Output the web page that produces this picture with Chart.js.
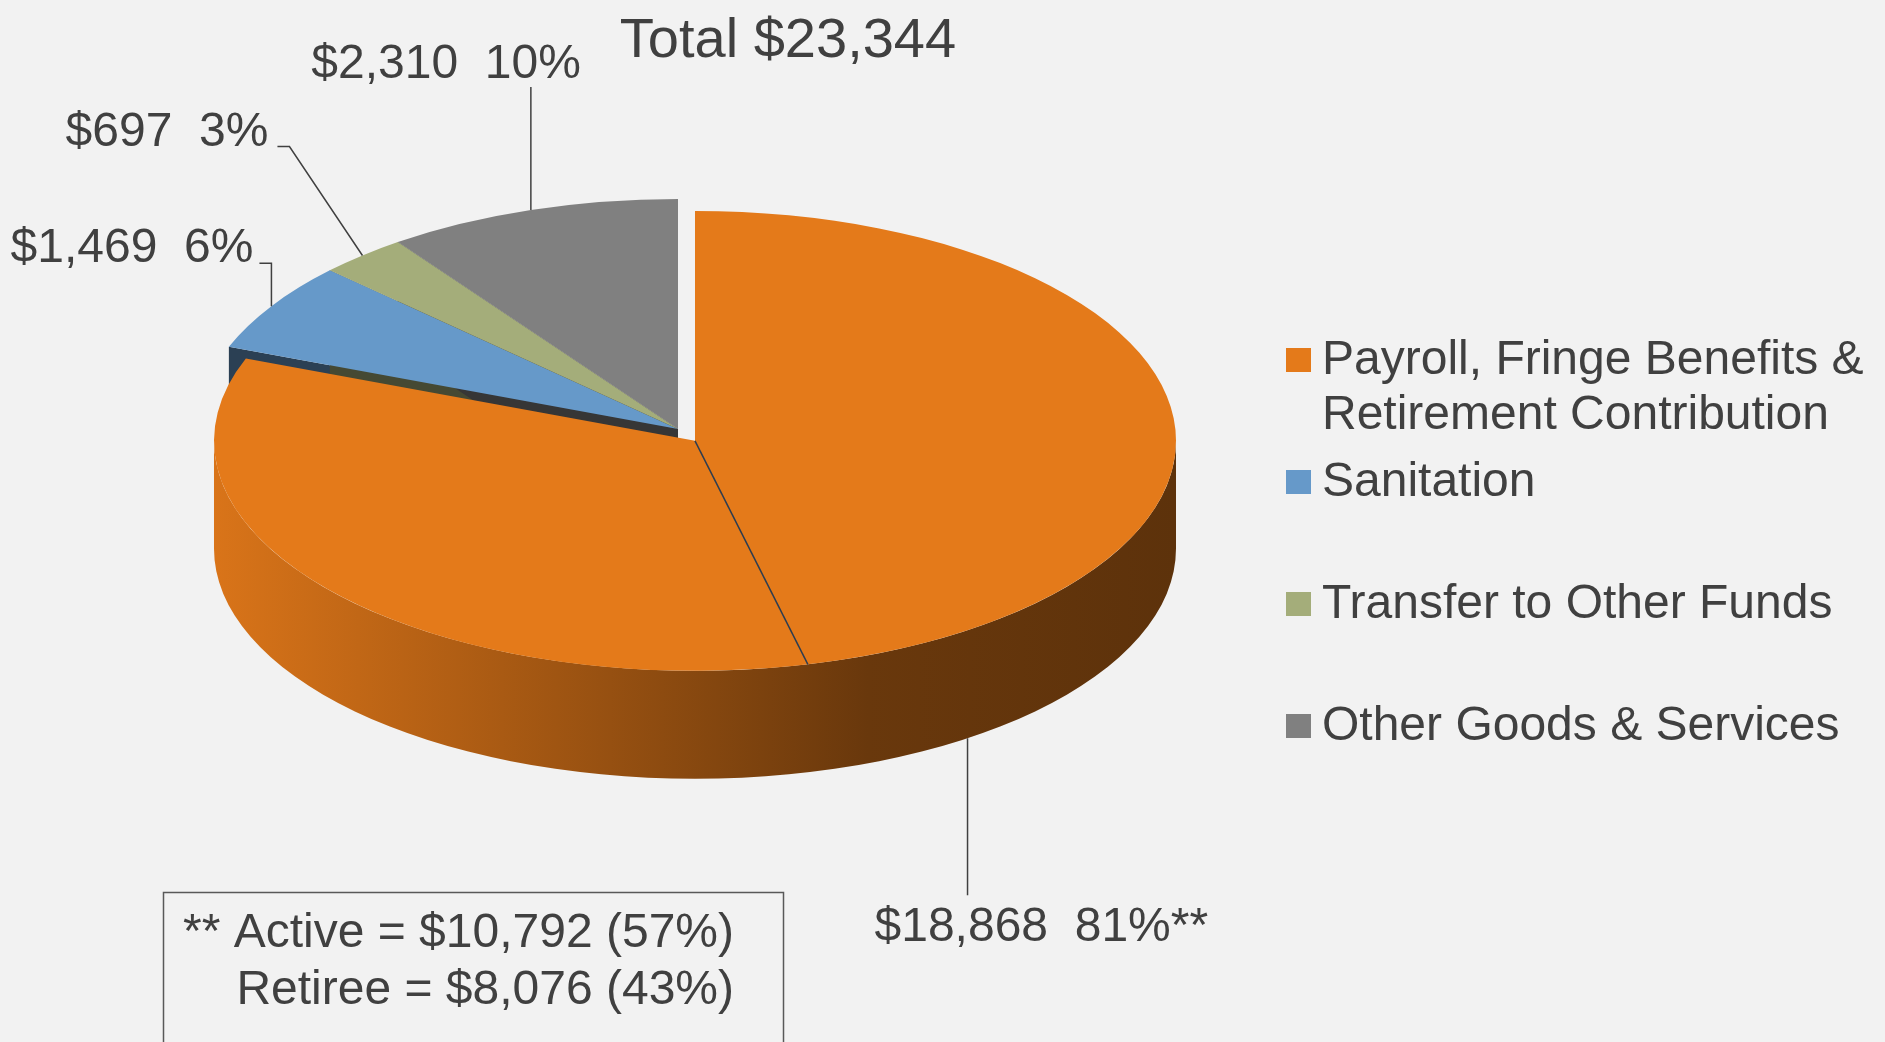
<!DOCTYPE html>
<html>
<head>
<meta charset="utf-8">
<script src="https://cdn.jsdelivr.net/npm/chart.js"></script>
<style>
  html, body { margin: 0; padding: 0; background: #f2f2f2; }
  canvas { display: block; }
</style>
</head>
<body>
<canvas id="budgetChart" width="1885" height="1042"></canvas>
<script>
// Budget breakdown, $ thousands
const categories = ['Payroll, Fringe Benefits & Retirement Contribution', 'Sanitation', 'Transfer to Other Funds', 'Other Goods & Services'];
const amounts = [18868, 1469, 697, 2310];
const labelMarks = ['**', '', '', ''];

// Payroll split for the footnote box
const payrollParts = ['Active', 'Retiree'];
const payrollAmounts = [10792, 8076];

const sliceColors = ['#e47a1a', '#6699c9', '#a4ad7a', '#808080'];

const total = amounts.reduce((a, b) => a + b, 0);
const FONT = '"Liberation Sans", Arial, sans-serif';
const TEXT = '#404040';

// 3d look
const TILT = 0.478;     // squash of the top face
const DEPTH = 108;      // thickness
const TOP_Y = 429;      // screen y of the pie centre
const EXPLODE = [30, 0, 0, 0];
const WALL_STOPS = [[0, 0.95], [0.3, 0.74], [0.68, 0.46], [1, 0.41]];

// label placement relative to the slice anchor
const labelLayout = [
    { leader: [[0, 157]], text: [-93, 203], align: 'left' },
    { leader: [[0, -43], [-12, -43]], text: [-18, -44], align: 'right' },
    { leader: [[-73, -109], [-85, -109]], text: [-94, -109], align: 'right' },
    { leader: [[0, -123]], text: [50, -132], align: 'right' }
];

const shade = (hex, f) => {
    const n = parseInt(hex.slice(1), 16);
    return `rgb(${Math.round((n >> 16 & 255) * f)},${Math.round((n >> 8 & 255) * f)},${Math.round((n & 255) * f)})`;
};
const money = v => '$' + v.toLocaleString('en-US');
const pct = (v, of) => Math.round(v / of * 100) + '%';

const sliceCentre = (arc, i) => {
    const h = (arc.startAngle + arc.endAngle) / 2;
    const t = EXPLODE[i] || 0;
    return { x: arc.x + Math.cos(h) * t, y: TOP_Y + Math.sin(h) * t * TILT };
};
const rimPoint = (c, r, a, drop) => ({ x: c.x + Math.cos(a) * r, y: c.y + Math.sin(a) * r * TILT + (drop || 0) });

const pie3d = {
    id: 'pie3d',
    beforeDatasetsDraw(chart) {
        const ctx = chart.ctx;
        const arcs = chart.getDatasetMeta(0).data;
        const r = arcs[0].outerRadius;

        // cut faces of the slices
        arcs.forEach((arc, i) => {
            const c = sliceCentre(arc, i);
            [[arc.startAngle, -1], [arc.endAngle, 1]].forEach(([a, side]) => {
                if (Math.sin(a + side * Math.PI / 2) < 0.02) return;
                const p = rimPoint(c, r, a);
                ctx.beginPath();
                ctx.moveTo(c.x, c.y);
                ctx.lineTo(p.x, p.y);
                ctx.lineTo(p.x, p.y + DEPTH);
                ctx.lineTo(c.x, c.y + DEPTH);
                ctx.closePath();
                ctx.fillStyle = shade(sliceColors[i], 0.42);
                ctx.fill();
            });
        });

        // outer wall, front half only
        arcs.forEach((arc, i) => {
            const a1 = Math.max(arc.startAngle, 0), a2 = Math.min(arc.endAngle, Math.PI);
            if (a1 >= a2) return;
            const c = sliceCentre(arc, i);
            const g = ctx.createLinearGradient(c.x - r, 0, c.x + r, 0);
            WALL_STOPS.forEach(([s, f]) => g.addColorStop(s, shade(sliceColors[i], f)));
            ctx.beginPath();
            ctx.ellipse(c.x, c.y, r, r * TILT, 0, a1, a2);
            ctx.ellipse(c.x, c.y + DEPTH, r, r * TILT, 0, a2, a1, true);
            ctx.closePath();
            ctx.fillStyle = g;
            ctx.fill();
        });

        // top faces: the library's own arcs, squashed
        arcs.forEach((arc, i) => {
            const c = sliceCentre(arc, i);
            ctx.save();
            ctx.translate(c.x, c.y);
            ctx.scale(1, TILT);
            ctx.translate(-arc.x, -arc.y);
            arc.draw(ctx);
            ctx.restore();
        });

        // active / retiree split line on the payroll slice
        const o = arcs[0];
        const c0 = sliceCentre(o, 0);
        const split = o.startAngle + (o.endAngle - o.startAngle) * payrollAmounts[0] / amounts[0];
        const sp = rimPoint(c0, r, split);
        ctx.beginPath();
        ctx.moveTo(c0.x, c0.y);
        ctx.lineTo(sp.x, sp.y);
        ctx.strokeStyle = '#2e3d50';
        ctx.lineWidth = 1.5;
        ctx.stroke();
        return false;
    },
    afterDraw(chart) {
        const ctx = chart.ctx;
        const arcs = chart.getDatasetMeta(0).data;
        const r = arcs[0].outerRadius;
        ctx.save();
        ctx.fillStyle = TEXT;
        ctx.textBaseline = 'alphabetic';

        // title
        ctx.font = '56px ' + FONT;
        ctx.textAlign = 'center';
        ctx.fillText('Total ' + money(total), 788, 57);

        // data labels with leader lines
        ctx.font = '48px ' + FONT;
        arcs.forEach((arc, i) => {
            const c = sliceCentre(arc, i);
            const h = (arc.startAngle + arc.endAngle) / 2;
            const a = rimPoint(c, r, h, Math.sin(h) > 0 ? DEPTH : 0);
            const lay = labelLayout[i];
            ctx.beginPath();
            ctx.moveTo(a.x, a.y);
            lay.leader.forEach(([dx, dy]) => ctx.lineTo(a.x + dx, a.y + dy));
            ctx.strokeStyle = TEXT;
            ctx.lineWidth = 1.5;
            ctx.stroke();
            ctx.textAlign = lay.align;
            ctx.fillText(money(amounts[i]) + '  ' + pct(amounts[i], total) + labelMarks[i], a.x + lay.text[0], a.y + lay.text[1]);
        });

        // legend
        ctx.textAlign = 'left';
        categories.forEach((name, i) => {
            const top = 348 + i * 122;
            ctx.fillStyle = sliceColors[i];
            ctx.fillRect(1286, top, 25, 24);
            ctx.fillStyle = TEXT;
            const lines = [];
            let line = '';
            name.split(' ').forEach(w => {
                const test = line ? line + ' ' + w : w;
                if (line && ctx.measureText(test).width > 555) { lines.push(line); line = w; }
                else line = test;
            });
            lines.push(line);
            lines.forEach((t, k) => ctx.fillText(t, 1322, top + 26 + k * 55));
        });

        // footnote box
        ctx.strokeStyle = '#595959';
        ctx.lineWidth = 1.5;
        ctx.strokeRect(163.5, 892.5, 620, 200);
        ctx.fillStyle = TEXT;
        ctx.textAlign = 'right';
        payrollParts.forEach((p, k) => {
            const pre = k === 0 ? '** ' : '';
            ctx.fillText(`${pre}${p} = ${money(payrollAmounts[k])} (${pct(payrollAmounts[k], amounts[0])})`, 734, 947 + k * 57);
        });
        ctx.restore();
    }
};

const chart = new Chart(document.getElementById('budgetChart').getContext('2d'), {
    type: 'pie',
    data: {
        labels: categories,
        datasets: [{
            data: amounts,
            backgroundColor: sliceColors,
            borderWidth: 0
        }]
    },
    options: {
        responsive: false,
        animation: false,
        events: [],
        radius: 481,
        layout: { padding: { left: 0, right: 529, top: 0, bottom: 0 } },
        plugins: {
            legend: { display: false },
            tooltip: { enabled: false }
        }
    },
    plugins: [pie3d]
});
</script>
</body>
</html>
